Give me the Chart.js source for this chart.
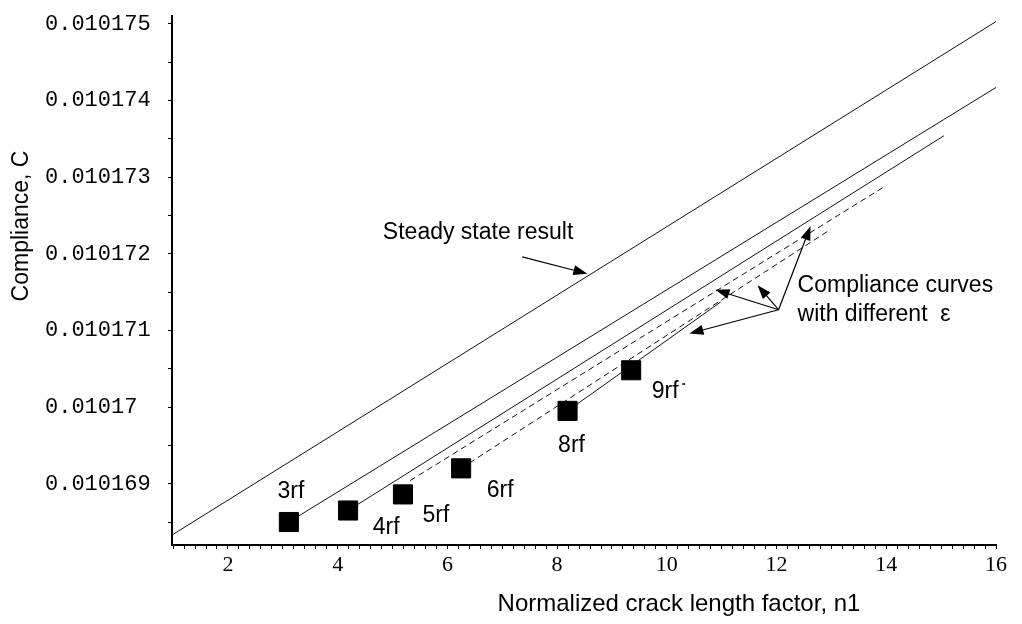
<!DOCTYPE html>
<html><head><meta charset="utf-8">
<script src="https://cdn.jsdelivr.net/npm/chart.js@4.4.1/dist/chart.umd.min.js"></script>
<style>html,body{margin:0;padding:0;background:#fff;}</style>
</head><body>
<canvas id="c" width="1022" height="624" style="display:block;width:1022px;height:624px"></canvas>
<script>
// ---- data ----
const xTickValues = [2, 4, 6, 8, 10, 12, 14, 16];
const xTickLabels = ['2', '4', '6', '8', '10', '12', '14', '16'];
const yTickValues = [0.010169, 0.01017, 0.010171, 0.010172, 0.010173, 0.010174, 0.010175];
const yTickLabels = ['0.010169', '0.01017', '0.010171', '0.010172', '0.010173', '0.010174', '0.010175'];

const steadyX = [0.98, 16];
const steadyC = [0.01016833, 0.01017503];

const markerLabels = ['3rf', '4rf', '5rf', '6rf', '8rf', '9rf'];
const markerX = [3.11, 4.19, 5.19, 6.25, 8.19, 9.35];
const markerC = [0.0101685, 0.01016865, 0.01016886, 0.0101692, 0.01016995, 0.01017048];

const curve3X = [3.11, 16];    const curve3C = [0.0101685, 0.01017417];
const curve4X = [4.19, 15.05]; const curve4C = [0.01016865, 0.01017354];
const curve5X = [5.32, 13.93]; const curve5C = [0.01016904, 0.01017286];
const curve6X = [6.25, 12.99]; const curve6C = [0.0101692, 0.01017232];
const curve8X = [8.19, 10.98]; const curve8C = [0.01016995, 0.01017137];

// ---- annotation text / arrows (data units) ----
const steadyText = 'Steady state result';
const steadyTextAt = [6.56, 0.01017228];
const steadyArrow = [[7.365, 0.01017196], [8.551, 0.01017174]];
const complText = ['Compliance curves', 'with different  \u03b5'];
const complTextAt = [[12.383, 0.01017158], [12.383, 0.01017121]];
const complFrom = [12.036, 0.01017127];
const complTips = [[12.62, 0.01017236], [11.653, 0.01017159], [10.887, 0.01017153], [10.412, 0.01017096]];

// ---- styles ----
const labelOffsets = [[2, -30], [38, 17], [33, 21], [39, 22], [4, 35], [34, 21]];
const annFont = '23px "Liberation Sans", Arial, sans-serif';

const pts = (xs, ys) => xs.map((x, i) => ({x, y: ys[i]}));
const near = (arr, v, tol) => arr.findIndex(a => Math.abs(a - v) < tol);

function arrow(ctx, x1, y1, x2, y2) {
  const a = Math.atan2(y2 - y1, x2 - x1), L = 14, W = 5;
  ctx.beginPath();
  ctx.moveTo(x1, y1);
  ctx.lineTo(x2 - L * 0.7 * Math.cos(a), y2 - L * 0.7 * Math.sin(a));
  ctx.lineWidth = 1.2;
  ctx.stroke();
  ctx.beginPath();
  ctx.moveTo(x2, y2);
  ctx.lineTo(x2 - L * Math.cos(a) + W * Math.sin(a), y2 - L * Math.sin(a) - W * Math.cos(a));
  ctx.lineTo(x2 - L * Math.cos(a) - W * Math.sin(a), y2 - L * Math.sin(a) + W * Math.cos(a));
  ctx.closePath();
  ctx.fill();
}

const annot = {
  id: 'annot',
  afterDraw(chart) {
    const {ctx, chartArea, scales: {x, y}} = chart;
    const P = (p) => [x.getPixelForValue(p[0]), y.getPixelForValue(p[1])];
    ctx.save();
    ctx.fillStyle = '#000';
    ctx.strokeStyle = '#000';
    ctx.font = annFont;
    ctx.textBaseline = 'middle';
    // marker labels
    const meta = chart.getDatasetMeta(0);
    ctx.textAlign = 'center';
    meta.data.forEach((pt, i) => {
      const o = labelOffsets[i];
      ctx.fillText(markerLabels[i], pt.x + o[0], pt.y + o[1]);
    });
    // small stray mark after "9rf"
    const p9 = meta.data[5];
    ctx.fillRect(p9.x + 51, p9.y + 13, 3, 1.5);
    // steady annotation
    let p = P(steadyTextAt);
    ctx.fillText(steadyText, p[0], p[1]);
    let a = P(steadyArrow[0]), b = P(steadyArrow[1]);
    arrow(ctx, a[0], a[1], b[0], b[1]);
    // compliance curves annotation
    ctx.textAlign = 'left';
    complText.forEach((t, i) => { const q = P(complTextAt[i]); ctx.fillText(t, q[0], q[1]); });
    const f = P(complFrom);
    complTips.forEach(t => { const q = P(t); arrow(ctx, f[0], f[1], q[0], q[1]); });
    // axis titles
    ctx.textAlign = 'center';
    ctx.font = '24px "Liberation Sans", Arial, sans-serif';
    ctx.fillText('Normalized crack length factor, n1', 679, chartArea.bottom + 59);
    ctx.font = annFont;
    ctx.translate(chartArea.left - 150, 226);
    ctx.rotate(-Math.PI / 2);
    ctx.fillText('Compliance, C', 0, 0);
    ctx.restore();
  }
};

const lineDs = (xs, ys, dash) => ({
  data: pts(xs, ys), showLine: true, borderColor: '#111', borderWidth: 1,
  borderDash: dash || [], pointRadius: 0, fill: false, order: 1
});

new Chart(document.getElementById('c'), {
  type: 'scatter',
  data: {
    datasets: [
      {data: pts(markerX, markerC), pointStyle: 'rect', pointRadius: 13.5,
       backgroundColor: '#000', borderColor: '#000', borderWidth: 1, showLine: false, order: 0},
      lineDs(steadyX, steadyC),
      lineDs(curve3X, curve3C),
      lineDs(curve4X, curve4C),
      lineDs(curve5X, curve5C, [6, 4]),
      lineDs(curve6X, curve6C, [6, 4]),
      lineDs(curve8X, curve8C)
    ]
  },
  options: {
    responsive: false, animation: false, devicePixelRatio: 1,
    layout: {padding: {left: 45, right: 26, top: 12, bottom: 0}},
    plugins: {legend: {display: false}, tooltip: {enabled: false}},
    scales: {
      x: {
        type: 'linear', min: 0.98, max: 16,
        afterBuildTicks: (s) => {
          const t = [];
          for (let i = 0; i <= 75; i++) t.push({value: Math.round((1 + i * 0.2) * 100) / 100});
          s.ticks = t;
        },
        afterFit: (s) => { s.height = 79; },
        grid: {display: true, drawOnChartArea: false, color: '#000', tickLength: 4, tickWidth: 1},
        border: {display: true, color: '#000', width: 2},
        ticks: {
          autoSkip: false, maxRotation: 0, padding: 3, color: '#000',
          font: {family: '"Liberation Serif", "Times New Roman", serif', size: 22},
          callback: (v) => { const k = near(xTickValues, v, 1e-6); return k >= 0 ? xTickLabels[k] : ''; }
        }
      },
      y: {
        type: 'linear', min: 0.0101682, max: 0.0101751,
        afterBuildTicks: (s) => {
          const t = [];
          for (let i = 0; i <= 13; i++) t.push({value: 0.0101685 + i * 0.0000005});
          s.ticks = t;
        },
        afterFit: (s) => { s.width = 127; },
        grid: {display: true, drawOnChartArea: false, color: '#000', tickLength: 4, tickWidth: 1},
        border: {display: true, color: '#000', width: 2},
        ticks: {
          autoSkip: false, crossAlign: 'far', color: '#000',
          font: {family: '"Liberation Mono", "Courier New", monospace', size: 22},
          callback: (v) => { const k = near(yTickValues, v, 1e-10); return k >= 0 ? yTickLabels[k] : ''; }
        }
      }
    }
  },
  plugins: [annot]
});
</script>
</body></html>
